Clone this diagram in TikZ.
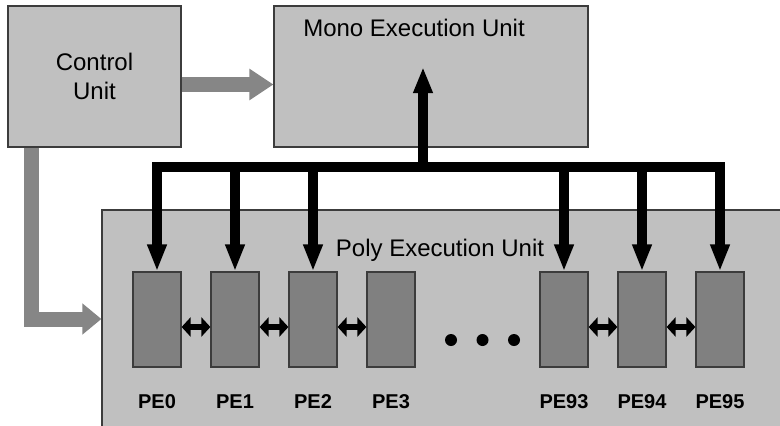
\documentclass[tikz,border=0pt]{standalone}
\usepackage{fontspec}
\setmainfont{Liberation Sans}
\usetikzlibrary{arrows.meta}
\definecolor{boxfill}{HTML}{C0C0C0}
\definecolor{pefill}{HTML}{808080}
\definecolor{edge}{HTML}{3C3C3C}
\definecolor{flow}{HTML}{868686}
\begin{document}
\begin{tikzpicture}[x=1pt,y=-1pt,
  unitbox/.style={draw=edge,line width=1.2pt,fill=boxfill,inner sep=0pt},
  pebox/.style={draw=edge,line width=1.2pt,fill=pefill,minimum width=48pt,minimum height=95pt,inner sep=0pt},
  title/.style={font=\fontsize{24}{29}\selectfont,inner sep=0pt,anchor=base},
  pelabel/.style={font=\fontsize{20}{24}\selectfont\bfseries,inner sep=0pt,anchor=base},
  ctrlflow/.style={draw=flow,line width=15pt,line join=miter},
  bus/.style={draw=black,line width=10pt,line join=miter},
  drop/.style={-{Triangle[length=27pt,width=18pt]}},
  link/.style={draw=black,line width=6pt,{Triangle[length=9pt,width=19pt]}-{Triangle[length=9pt,width=19pt]}},
  dot/.style={circle,fill=black,minimum size=12pt,inner sep=0pt},
]
\useasboundingbox (0,0) rectangle (780,426);
\clip (0,0) rectangle (780,426);

% units
\node[unitbox,minimum width=680pt,minimum height=218pt] (peu) at (442,319) {};
\node[unitbox,minimum width=173pt,minimum height=141pt,align=center,
      font=\fontsize{24}{29}\selectfont] (cu) at (94.5,76.5) {Control\\Unit};
\node[unitbox,minimum width=314pt,minimum height=141pt] (meu) at (431,76.5) {};
\node[title] (meutitle) at (414,36) {Mono Execution Unit};
\node[title] (peutitle) at (440,256) {Poly Execution Unit};

% control flow from the control unit
\draw[ctrlflow,-{Triangle[length=24pt,width=30pt]}]
  ([yshift=-8pt]cu.east) -- ([yshift=-8pt]meu.west);
\draw[ctrlflow,-{Triangle[length=19pt,width=30pt]}]
  ([xshift=24.5pt]cu.south west) |- (peu.west);

% processing elements
\foreach \n/\x in {0/157,1/235,2/313,3/391,93/564,94/642,95/720}{
  \node[pebox] (pe\n) at (\x,319.5) {};
  \node[pelabel] (lbl\n) at (\x,408) {PE\n};
}

% neighbour links
\foreach \a/\b in {0/1,1/2,2/3,93/94,94/95}{
  \draw[link] ([yshift=-7.5pt]pe\a.east) -- ([yshift=-7.5pt]pe\b.west);
}

% ellipsis
\node[dot] (d1) at (451,340) {};
\node[dot] (d2) at (482.5,340) {};
\node[dot] (d3) at (514,340) {};

% broadcast bus
\coordinate (bus) at (423,166.5);
\coordinate (meutip) at (423,67);
\draw[bus,{Triangle[length=27pt,width=18pt]}-{Triangle[length=27pt,width=18pt]}]
  (pe0.north) |- (bus) -| (pe95.north);
\foreach \p in {pe1,pe2,pe93,pe94}{
  \draw[bus,drop] (\p.north |- bus) -- (\p.north);
}
\draw[bus,-{Triangle[length=26pt,width=18pt]}] (bus) -- (meutip);
\end{tikzpicture}
\end{document}
